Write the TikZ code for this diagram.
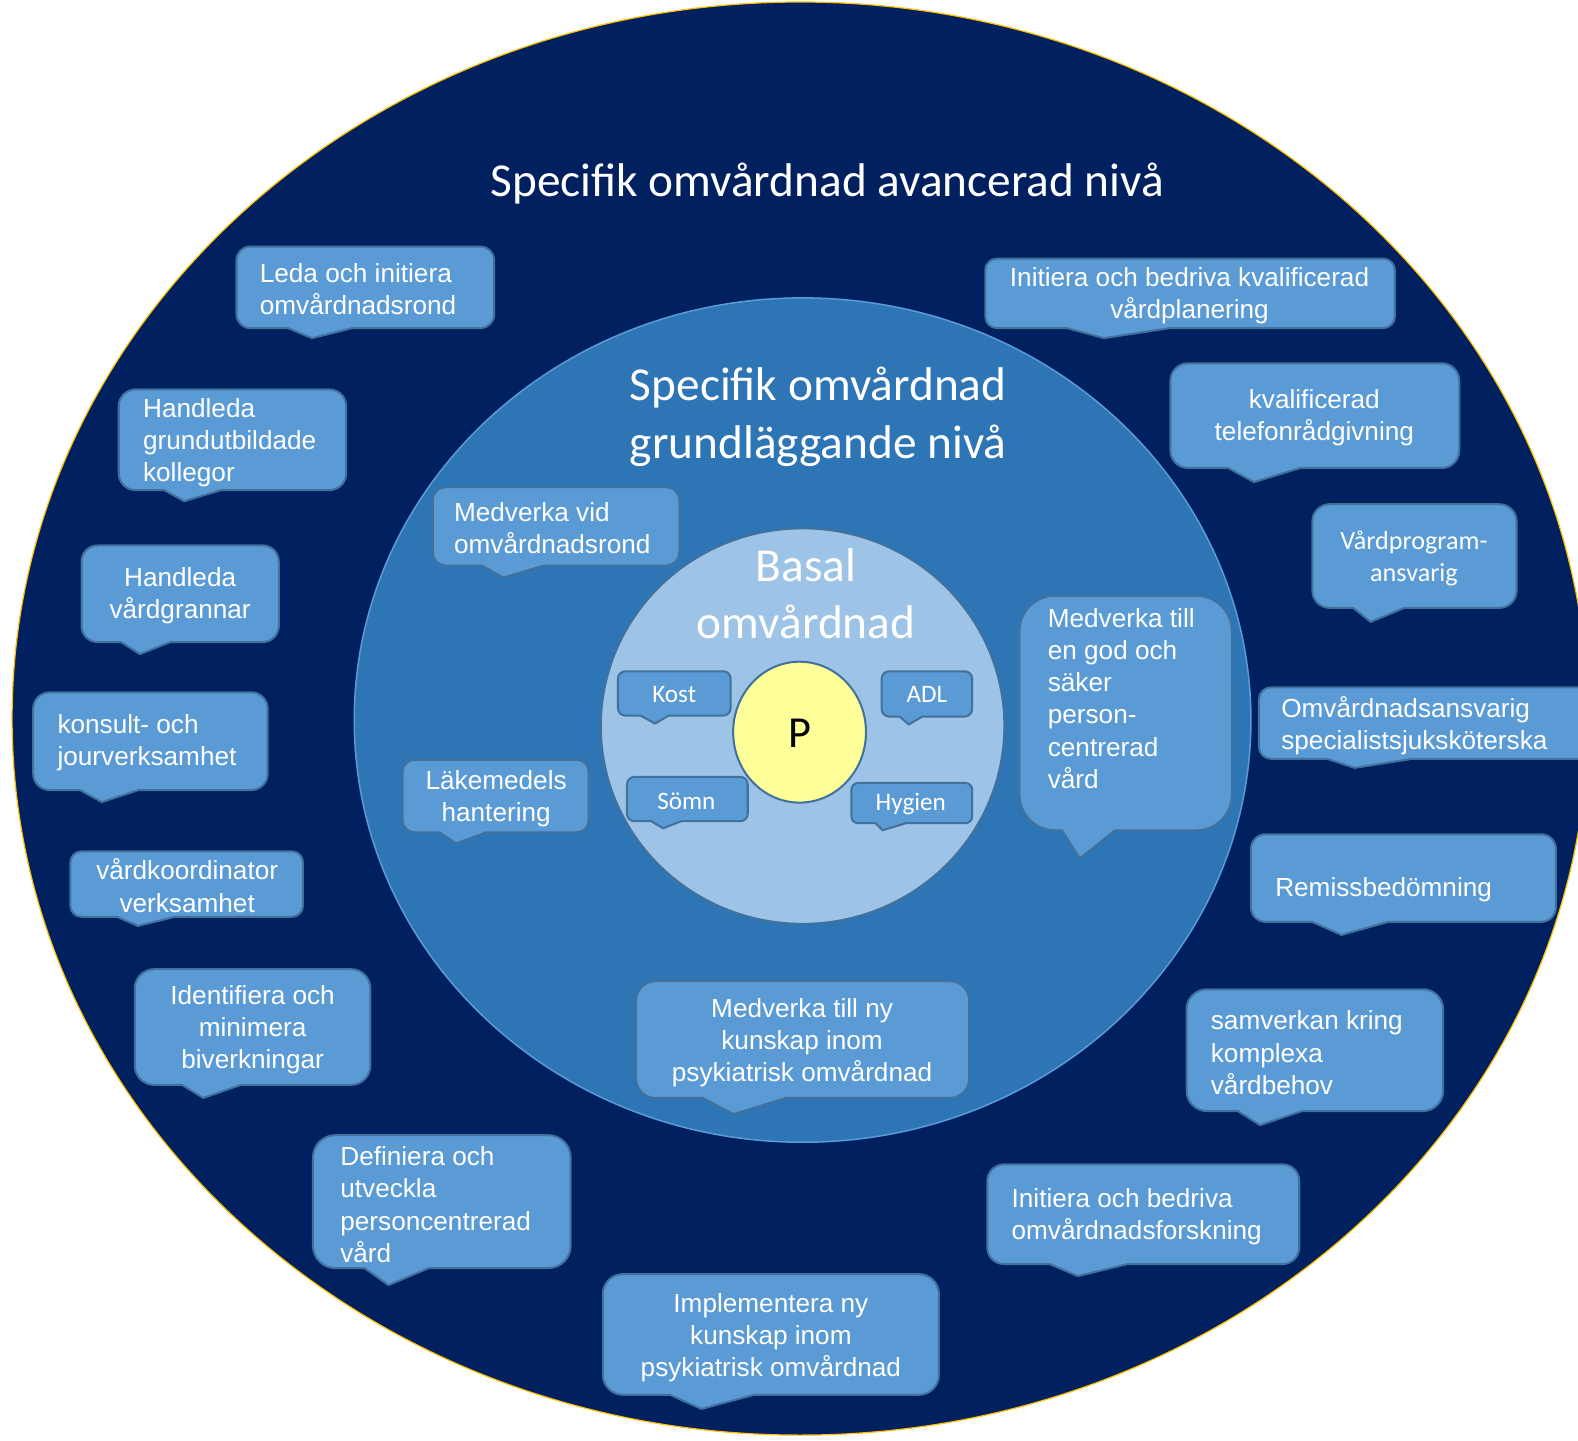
\documentclass[tikz,border=0pt]{standalone}
\usepackage{fontspec}
\setmainfont{Liberation Sans}
\newfontfamily\calib{Carlito}
\definecolor{navy}{HTML}{002060}
\definecolor{midblue}{HTML}{2E75B6}
\definecolor{lightblue}{HTML}{9DC3E6}
\definecolor{callblue}{HTML}{5B9BD5}
\definecolor{edgeblue}{HTML}{41719C}
\definecolor{pyellow}{HTML}{FFFF99}
\definecolor{goldline}{HTML}{FFC000}
\tikzset{
  cshape/.style={fill=callblue, draw=edgeblue, line width=2pt, line join=round},
  ctext/.style={text=white, font=\fontsize{26}{32}\selectfont, inner sep=0pt},
  cctext/.style={text=white, font=\calib\fontsize{25}{30}\selectfont, inner sep=0pt},
  ttext/.style={text=white, font=\calib\fontsize{47}{57}\selectfont, inner sep=0pt, align=center},
}
% L T R B tipx tipy
\newcommand\cbox[6]{%
  \pgfmathsetmacro\cbl{#1+0.2*(#3-#1)}%
  \pgfmathsetmacro\cbr{#1+0.45*(#3-#1)}%
  \pgfmathsetmacro\crr{0.1667*min(#3-#1,#4-#2)}%
  \pgfmathsetmacro\crc{0.448*\crr}%
  \filldraw[cshape] (#1+\crr,#2) -- (#3-\crr,#2) .. controls (#3-\crc,#2) and (#3,#2+\crc) .. (#3,#2+\crr)
    -- (#3,#4-\crr) .. controls (#3,#4-\crc) and (#3-\crc,#4) .. (#3-\crr,#4) -- (\cbr,#4) -- (#5,#6) -- (\cbl,#4)
    -- (#1+\crr,#4) .. controls (#1+\crc,#4) and (#1,#4-\crc) .. (#1,#4-\crr) -- (#1,#2+\crr) .. controls (#1,#2+\crc) and (#1+\crc,#2) .. (#1+\crr,#2) -- cycle;}
\begin{document}
\begin{tikzpicture}[x=1pt,y=-1pt]
\useasboundingbox (0,0) rectangle (1568,1431);
\clip (0,0) rectangle (1568,1431);
\fill[white] (0,0) rectangle (1568,1431);
% circles
\filldraw[fill=navy, draw=goldline, line width=1.2pt] (795,714) ellipse [x radius=783, y radius=712];
\filldraw[fill=midblue, draw=callblue, line width=1.5pt] (797.5,715.5) ellipse [x radius=445.5, y radius=419.5];
\filldraw[fill=lightblue, draw=edgeblue, line width=2pt] (797.5,721.5) ellipse [x radius=200.5, y radius=196.5];
\filldraw[fill=pyellow, draw=edgeblue, line width=2pt] (794.5,727.5) ellipse [x radius=66, y radius=70];
\node[text=black, font=\calib\fontsize{44}{50}\selectfont, inner sep=0pt] (p) at (795,729) {P};
% titles
\node[ttext] (tadv) at (822,182) {Specifik omvårdnad avancerad nivå};
\node[ttext] (tgrund) at (813,414) {Specifik omvårdnad\\grundläggande nivå};
\node[ttext] (tbasal) at (801,590) {Basal\\omvårdnad};
% outer callouts
\cbox{235}{245}{491}{326}{310}{336}
\node[ctext, align=left, anchor=west] (leda) at (258,287) {Leda och initiera\\omvårdnadsrond};
\cbox{118}{387}{344}{487}{183}{498}
\node[ctext, align=left, anchor=west] (handgr) at (142,440) {Handleda\\grundutbildade\\kollegor};
\cbox{81}{542}{277}{638}{139}{650}
\node[ctext, align=center] (handvg) at (179,592) {Handleda\\vårdgrannar};
\cbox{33}{688}{266}{785}{101}{797}
\node[ctext, align=left, anchor=west] (konsult) at (57,738) {konsult- och\\jourverksamhet};
\cbox{70}{846}{301}{911}{137}{920}
\node[ctext, align=center] (vkoord) at (186,880) {vårdkoordinator\\verksamhet};
\cbox{134}{963}{368}{1078}{202}{1091}
\node[ctext, align=center] (ident) at (251,1023) {Identifiera och\\minimera\\biverkningar};
\cbox{311}{1128}{567}{1260}{386}{1277}
\node[ctext, align=left, anchor=west] (defin) at (338,1197) {Definiera och\\utveckla\\personcentrerad\\vård};
\cbox{599}{1266}{933}{1386}{697}{1400}
\node[ctext, align=center] (impl) at (766,1329) {Implementera ny\\kunskap inom\\psykiatrisk omvårdnad};
\cbox{981}{1157}{1291}{1256}{1071}{1268}
\node[ctext, align=left, anchor=west] (forsk) at (1005,1209) {Initiera och bedriva\\omvårdnadsforskning};
\cbox{1179}{983}{1434}{1104}{1252}{1118}
\node[ctext, align=left, anchor=west] (samv) at (1203,1046) {samverkan kring\\komplexa\\vårdbehov};
\cbox{1243}{829}{1546}{916}{1333}{929}
\node[ctext, align=left, anchor=west] (remiss) at (1267,884) {Remissbedömning};
\cbox{1251}{683}{1590}{754}{1346}{763}
\node[ctext, align=left, anchor=west] (omvans) at (1273,721) {Omvårdnadsansvarig\\specialistsjuksköterska};
\cbox{1304}{501}{1507}{604}{1362}{618}
\node[text=white, font=\calib\fontsize{26}{32}\selectfont, inner sep=0pt, align=center] (vprog) at (1405,555) {Vårdprogram-\\ansvarig};
\cbox{1163}{361}{1450}{465}{1246}{479}
\node[ctext, align=center] (telef) at (1306,415) {kvalificerad\\telefonrådgivning};
\cbox{979}{257}{1386}{326}{1097}{336}
\node[ctext, align=center] (vplan) at (1182,294) {Initiera och bedriva kvalificerad\\vårdplanering};
% middle callouts
\cbox{430}{484}{675}{562}{500}{574}
\node[ctext, align=left, anchor=west] (mvrond) at (451,525) {Medverka vid\\omvårdnadsrond};
\cbox{400}{755}{585}{827}{453}{838}
\node[ctext, align=center] (lakem) at (493,794) {Läkemedels\\hantering};
\cbox{632}{975}{963}{1091}{729}{1107}
\node[ctext, align=center] (mnykun) at (797,1036) {Medverka till ny\\kunskap inom\\psykiatrisk omvårdnad};
\cbox{1013}{592}{1224}{825}{1073}{853}
\node[ctext, align=left, anchor=west] (mgod) at (1041,694) {Medverka till\\en god och\\säker\\person-\\centrerad\\vård};
% inner callouts
\cbox{614}{667}{726}{711}{651}{719}
\node[cctext] (kost) at (670,690) {Kost};
\cbox{876}{667}{966}{712}{903}{720}
\node[cctext] (adl) at (921,690) {ADL};
\cbox{623}{772}{743}{816}{659}{823}
\node[cctext] (somn) at (682,796) {Sömn};
\cbox{846}{778}{966}{818}{877}{825}
\node[cctext] (hyg) at (905,799) {Hygien};
\end{tikzpicture}
\end{document}
